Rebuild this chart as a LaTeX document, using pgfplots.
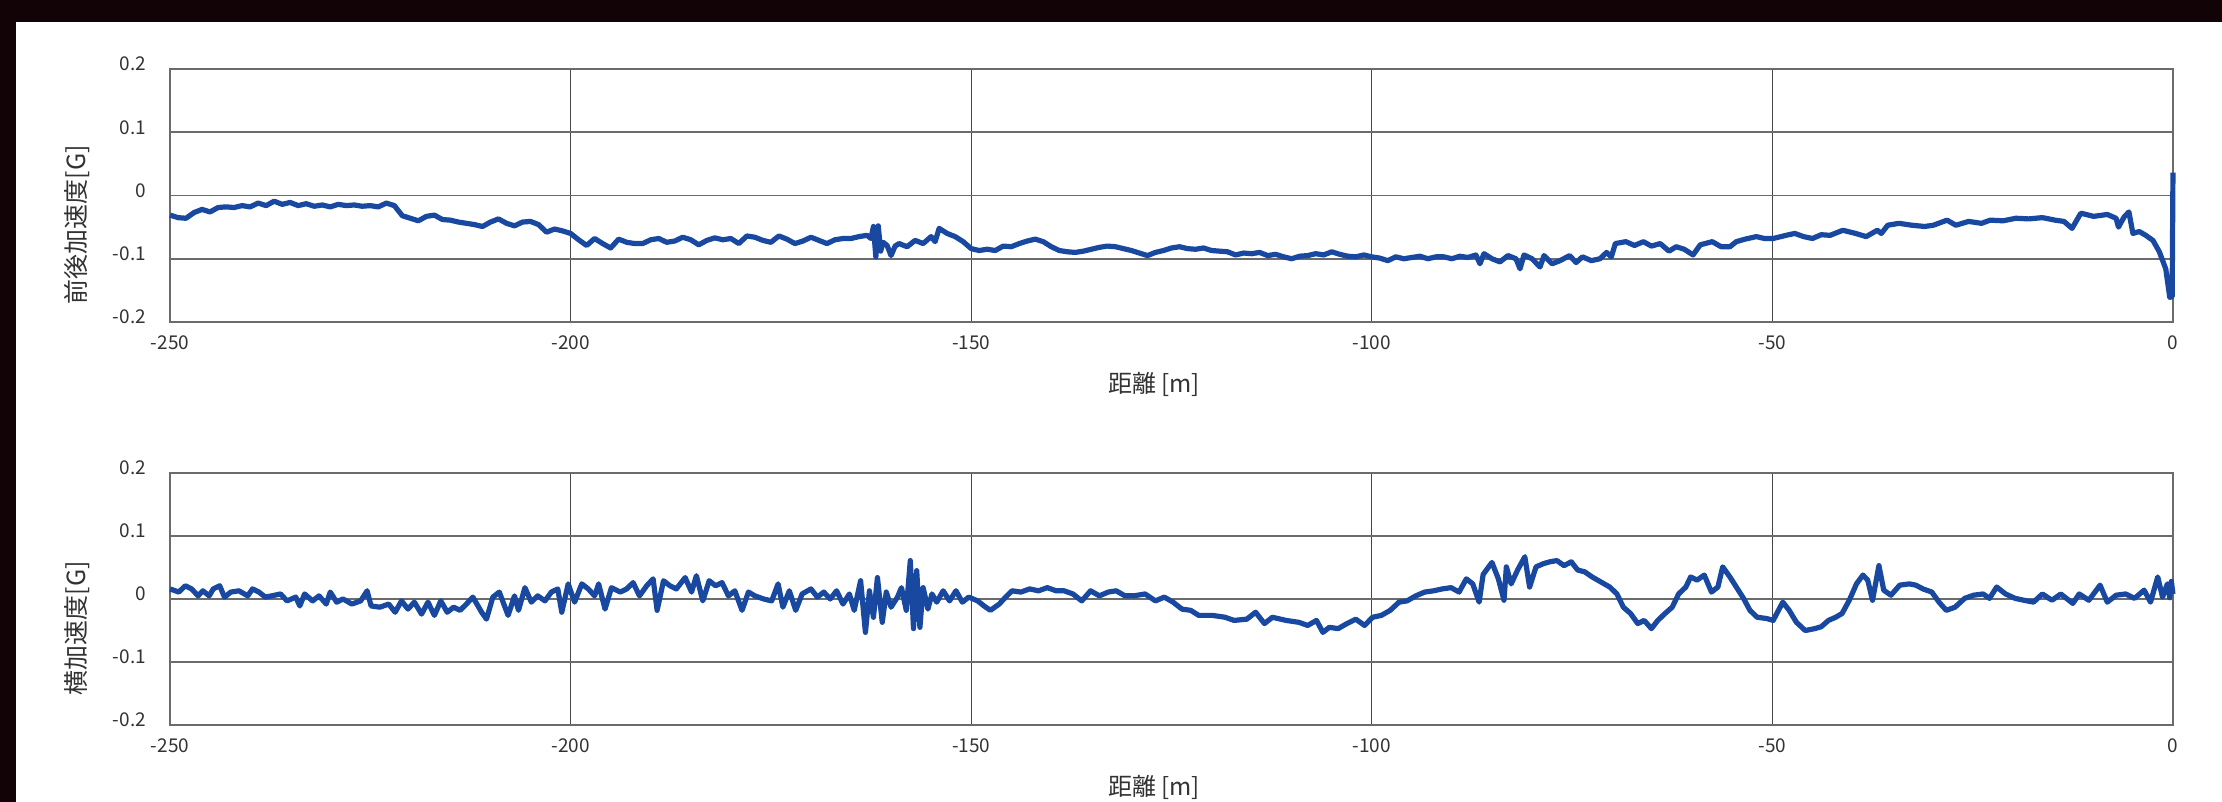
\documentclass[border=0pt]{standalone}
\usepackage{fontspec}
\setmainfont{Noto Sans CJK JP}
\usepackage{pgfplots}
\pgfplotsset{compat=1.18}
\definecolor{band}{RGB}{18,3,6}
\definecolor{trace}{RGB}{24,72,160}
\pgfplotsset{
 myax/.style={
  scale only axis, width=1001.5pt, height=126.5pt,
  xmin=-250, xmax=0, ymin=-0.2, ymax=0.2,
  xtick={-250,-200,-150,-100,-50,0}, xticklabels={-250,-200,-150,-100,-50,0},
  ytick={-0.2,-0.1,0,0.1,0.2}, yticklabels={-0.2,-0.1,0,0.1,0.2},
  major tick length=0pt,
  xmajorgrids, ymajorgrids,
  x grid style={black!72, line width=0.6pt},
  y grid style={black!58, line width=0.9pt},
  axis line style={black!58, line width=0.9pt},
  ticklabel style={font=\fontsize{9.5}{11}\selectfont, text=black!80},
  xticklabel style={yshift=-3.3pt},
  yticklabel style={xshift=-8.5pt, yshift=2.5pt},
  xlabel style={font=\fontsize{12}{14}\selectfont, text=black!80, at={(axis description cs:0.4913,0)}, anchor=center, yshift=-31pt},
  ylabel style={font=\fontsize{12.5}{15}\selectfont, text=black!80, at={(axis description cs:-0.0464,0.385)}, anchor=center},
  clip=false,
 },
 tr/.style={trace, line width=2.6pt, line join=round, no marks},
}
\begin{document}
\begin{tikzpicture}
\useasboundingbox (0pt,0pt) rectangle (1111pt,401pt);
\fill[band] (0pt,0pt) rectangle (1111pt,401pt);
\fill[white] (8pt,0pt) rectangle (1111pt,390pt);
\begin{axis}[myax, at={(85pt,240pt)}, anchor=south west, xlabel={距離 [m]}, ylabel={前後加速度[G]}]
\addplot[tr] coordinates {
(-250,-0.031) (-249,-0.035) (-248,-0.036) (-247,-0.027) (-246,-0.022) (-245,-0.026) (-244,-0.019) (-243,-0.018) (-242,-0.019) (-241,-0.016) (-240,-0.018) (-239,-0.012) (-238,-0.016) (-237,-0.009) (-236,-0.014) (-235,-0.011) (-234,-0.016) (-233,-0.013) (-232,-0.017) (-231,-0.015) (-230,-0.018) (-229,-0.014) (-228,-0.016) (-227,-0.015) (-226,-0.017) (-225,-0.016) (-224,-0.018) (-223,-0.012) (-222,-0.016) (-221,-0.032) (-220,-0.036) (-219,-0.040) (-218,-0.033) (-217,-0.031) (-216,-0.038) (-215,-0.039) (-214,-0.042) (-213,-0.044) (-212,-0.046) (-211,-0.049) (-210,-0.042) (-209,-0.037) (-208,-0.044) (-207,-0.048) (-206,-0.042) (-205,-0.041) (-204,-0.046) (-203,-0.058) (-202,-0.053) (-201,-0.056) (-200,-0.060) (-199,-0.070) (-198,-0.079) (-197,-0.068) (-196,-0.076) (-195,-0.083) (-194,-0.069) (-193,-0.074) (-192,-0.076) (-191,-0.076) (-190,-0.070) (-189,-0.068) (-188,-0.074) (-187,-0.072) (-186,-0.066) (-185,-0.070) (-184,-0.078) (-183,-0.071) (-182,-0.067) (-181,-0.070) (-180,-0.068) (-179,-0.076) (-178,-0.064) (-177,-0.066) (-176,-0.071) (-175,-0.074) (-174,-0.064) (-173,-0.069) (-172,-0.076) (-171,-0.072) (-170,-0.066) (-169,-0.071) (-168,-0.076) (-167,-0.070) (-166,-0.068) (-165,-0.068) (-164,-0.065) (-163,-0.063) (-162.5,-0.068) (-162.2,-0.049) (-161.9,-0.097) (-161.6,-0.048) (-161.3,-0.088) (-161,-0.074) (-160.5,-0.079) (-160,-0.095) (-159.5,-0.080) (-159,-0.076) (-158,-0.081) (-157,-0.071) (-156,-0.076) (-155,-0.065) (-154.5,-0.073) (-154,-0.052) (-153,-0.060) (-152,-0.065) (-151,-0.073) (-150,-0.084) (-149,-0.087) (-148,-0.085) (-147,-0.087) (-146,-0.080) (-145,-0.081) (-144,-0.076) (-143,-0.072) (-142,-0.069) (-141,-0.073) (-140,-0.081) (-139,-0.087) (-138,-0.089) (-137,-0.090) (-136,-0.088) (-135,-0.085) (-134,-0.082) (-133,-0.080) (-132,-0.081) (-131,-0.084) (-130,-0.087) (-129,-0.091) (-128,-0.095) (-127,-0.090) (-126,-0.087) (-125,-0.083) (-124,-0.081) (-123,-0.084) (-122,-0.085) (-121,-0.083) (-120,-0.087) (-119,-0.088) (-118,-0.089) (-117,-0.094) (-116,-0.091) (-115,-0.092) (-114,-0.090) (-113,-0.095) (-112,-0.093) (-111,-0.097) (-110,-0.100) (-109,-0.096) (-108,-0.095) (-107,-0.092) (-106,-0.094) (-105,-0.089) (-104,-0.093) (-103,-0.096) (-102,-0.097) (-101,-0.094) (-100,-0.097) (-99,-0.099) (-98,-0.103) (-97,-0.097) (-96,-0.100) (-95,-0.098) (-94,-0.096) (-93,-0.100) (-92,-0.097) (-91,-0.097) (-90,-0.100) (-89,-0.096) (-88,-0.098) (-87,-0.094) (-86.5,-0.108) (-86,-0.092) (-85,-0.100) (-84,-0.105) (-83,-0.095) (-82,-0.100) (-81.5,-0.116) (-81,-0.094) (-80,-0.100) (-79,-0.113) (-78.5,-0.095) (-77.5,-0.108) (-76.5,-0.103) (-75.3,-0.095) (-74.5,-0.106) (-73.7,-0.097) (-72.6,-0.103) (-71.5,-0.100) (-70.7,-0.090) (-70.1,-0.097) (-69.6,-0.076) (-68.3,-0.073) (-67.2,-0.079) (-66.1,-0.073) (-65.1,-0.080) (-64,-0.076) (-62.9,-0.088) (-62,-0.081) (-61,-0.085) (-59.9,-0.094) (-59,-0.078) (-57.5,-0.073) (-56.4,-0.081) (-55.3,-0.081) (-54.5,-0.073) (-53.4,-0.069) (-52,-0.065) (-51,-0.068) (-49.9,-0.068) (-48.3,-0.063) (-47.2,-0.060) (-46.1,-0.065) (-45,-0.068) (-43.9,-0.062) (-42.8,-0.063) (-41.2,-0.055) (-39.6,-0.060) (-38.3,-0.065) (-36.9,-0.055) (-36.4,-0.060) (-35.6,-0.047) (-34.2,-0.044) (-32.6,-0.047) (-31,-0.049) (-29.9,-0.047) (-28.2,-0.039) (-27.1,-0.047) (-25.5,-0.041) (-23.9,-0.044) (-22.8,-0.039) (-21.2,-0.040) (-19.6,-0.036) (-18,-0.037) (-16.3,-0.035) (-14.7,-0.039) (-13.6,-0.041) (-12.6,-0.052) (-11.5,-0.028) (-9.9,-0.033) (-8.2,-0.030) (-7.1,-0.036) (-6.8,-0.050) (-6.1,-0.034) (-5.5,-0.026) (-5.0,-0.060) (-4.2,-0.057) (-3.4,-0.063) (-2.5,-0.071) (-1.7,-0.089) (-0.9,-0.116) (-0.4,-0.161) (-0.1,-0.160) (0,0.036)
};
\end{axis}
\begin{axis}[myax, height=126pt, at={(85pt,38.5pt)}, anchor=south west, xlabel={距離 [m]}, ylabel={横加速度[G]}]
\addplot[tr] coordinates {
(-250.0,0.016) (-248.9,0.011) (-248.1,0.021) (-247.3,0.016) (-246.5,0.005) (-245.9,0.013) (-245.1,0.005) (-244.6,0.016) (-243.8,0.021) (-243.2,0.003) (-242.4,0.011) (-241.4,0.013) (-240.3,0.005) (-239.7,0.016) (-238.9,0.011) (-238.1,0.003) (-237.3,0.005) (-236.2,0.008) (-235.4,-0.003) (-234.3,0.003) (-233.8,-0.011) (-233.2,0.008) (-232.2,-0.003) (-231.4,0.005) (-230.5,-0.008) (-230.0,0.011) (-229.2,-0.005) (-228.4,0.000) (-227.3,-0.008) (-226.2,-0.003) (-225.4,0.013) (-224.9,-0.011) (-223.8,-0.013) (-222.7,-0.008) (-221.9,-0.021) (-221.1,-0.003) (-220.3,-0.016) (-219.5,-0.005) (-218.6,-0.024) (-217.8,-0.005) (-217.0,-0.026) (-216.2,-0.003) (-215.4,-0.021) (-214.6,-0.013) (-213.8,-0.018) (-213.0,-0.008) (-212.2,0.003) (-211.1,-0.021) (-210.5,-0.032) (-209.7,0.003) (-208.9,0.011) (-207.8,-0.026) (-207.0,0.005) (-206.5,-0.018) (-205.7,0.018) (-204.9,-0.005) (-204.1,0.005) (-203.2,-0.003) (-202.4,0.011) (-201.6,0.016) (-201.1,-0.021) (-200.3,0.024) (-199.5,-0.005) (-198.6,0.024) (-197.8,0.016) (-197.0,0.005) (-196.5,0.024) (-195.7,-0.016) (-194.9,0.018) (-193.8,0.011) (-193.0,0.016) (-192.2,0.026) (-191.4,0.005) (-190.5,0.021) (-189.7,0.032) (-189.2,-0.018) (-188.4,0.029) (-187.6,0.021) (-186.8,0.016) (-185.7,0.034) (-184.9,0.011) (-184.3,0.037) (-183.5,-0.003) (-182.7,0.029) (-181.9,0.021) (-181.1,0.026) (-180.3,0.005) (-179.5,0.013) (-178.6,-0.018) (-177.8,0.011) (-177.0,0.005) (-175.9,0.000) (-174.9,-0.003) (-174.1,0.024) (-173.5,-0.013) (-172.7,0.013) (-171.9,-0.018) (-171.1,0.008) (-170.0,0.016) (-169.2,0.003) (-168.4,0.011) (-167.6,0.000) (-166.8,0.013)
(-166.0,-0.008) (-165.2,0.008) (-164.6,-0.018) (-163.8,0.029) (-163.2,-0.053) (-162.7,0.013) (-162.2,-0.029) (-161.7,0.034) (-161.1,-0.037) (-160.6,0.011) (-160.0,-0.013) (-159.2,0.003) (-158.7,0.018) (-158.1,-0.018) (-157.6,0.061) (-157.2,-0.047) (-156.8,0.045) (-156.4,-0.045) (-156.0,0.018) (-155.4,-0.016) (-154.9,0.008) (-154.3,-0.005) (-153.5,0.013) (-152.7,-0.003) (-151.9,0.013) (-151.1,-0.005) (-150.3,0.003) (-149.2,-0.003) (-148.4,-0.011) (-147.6,-0.018) (-146.5,-0.008) (-145.7,0.003) (-144.9,0.013) (-143.8,0.011) (-142.7,0.016) (-141.6,0.013) (-140.5,0.018) (-139.4,0.013) (-138.4,0.013) (-137.3,0.008) (-136.2,-0.003) (-135.1,0.013) (-134.0,0.005) (-132.9,0.011) (-131.9,0.013) (-130.8,0.005) (-129.7,0.005) (-128.3,0.008) (-127.0,-0.003) (-125.9,0.003) (-124.8,-0.005) (-123.7,-0.016) (-122.6,-0.018) (-121.6,-0.026) (-119.9,-0.026) (-118.3,-0.029) (-117.2,-0.034) (-115.6,-0.032) (-114.5,-0.021) (-113.4,-0.039) (-112.4,-0.029) (-110.7,-0.034) (-109.1,-0.037) (-108.0,-0.042) (-106.9,-0.034) (-106.1,-0.053) (-105.3,-0.045) (-104.2,-0.047) (-103.1,-0.039) (-102.0,-0.032) (-100.9,-0.042) (-99.9,-0.029) (-98.8,-0.026) (-97.7,-0.018) (-96.6,-0.005) (-95.6,-0.003) (-94.5,0.005) (-93.4,0.011) (-92.3,0.013) (-91.2,0.016) (-90.1,0.018) (-89.1,0.011) (-88.2,0.032) (-87.4,0.024) (-86.6,-0.005) (-86.1,0.039) (-85.0,0.058) (-84.2,0.032)
(-83.5,-0.002) (-83.2,0.051) (-82.6,0.024) (-81.8,0.046) (-80.9,0.067) (-80.3,0.019) (-79.5,0.051) (-78.6,0.056) (-77.8,0.059) (-76.9,0.061) (-76.0,0.053) (-75.1,0.059) (-74.3,0.046) (-73.4,0.043) (-72.5,0.035) (-71.4,0.027) (-70.3,0.019) (-69.4,0.008) (-68.6,-0.013) (-67.7,-0.023) (-66.8,-0.039) (-66.0,-0.034) (-65.1,-0.047) (-64.3,-0.034) (-63.4,-0.023) (-62.5,-0.013) (-61.7,0.008) (-60.8,0.019) (-60.2,0.035) (-59.4,0.030) (-58.5,0.038) (-57.6,0.011) (-56.8,0.019) (-56.2,0.051) (-55.3,0.035) (-54.5,0.019) (-53.6,0.001) (-52.8,-0.018) (-51.9,-0.029) (-50.7,-0.031) (-49.9,-0.034) (-48.7,-0.005) (-47.9,-0.018) (-47.0,-0.037) (-45.9,-0.050) (-44.7,-0.047) (-43.9,-0.044) (-43.0,-0.034) (-42.1,-0.029) (-41.3,-0.023) (-40.4,-0.002) (-39.5,0.024) (-38.7,0.038) (-38.1,0.030) (-37.5,-0.002) (-36.7,0.053) (-36.1,0.014) (-35.2,0.006) (-34.1,0.022) (-32.9,0.024) (-32.1,0.022) (-31.2,0.016) (-30.1,0.011) (-29.2,-0.005) (-28.3,-0.018) (-27.2,-0.013) (-26.0,0.001) (-24.9,0.006) (-23.7,0.008) (-22.9,0.001) (-22.0,0.019) (-20.9,0.008) (-19.7,0.001) (-18.6,-0.002) (-17.4,-0.005) (-16.3,0.008) (-15.1,-0.002) (-14.0,0.008) (-12.5,-0.007) (-11.7,0.008) (-10.5,-0.002) (-9.1,0.022) (-8.2,-0.005) (-7.1,0.006) (-5.9,0.008) (-4.8,0.001) (-3.6,0.014) (-2.8,-0.005) (-1.9,0.035) (-1.3,0.003) (-0.7,0.024) (-0.4,0.002) (-0.2,0.028) (0,0.008)
};
\end{axis}
\end{tikzpicture}
\end{document}
